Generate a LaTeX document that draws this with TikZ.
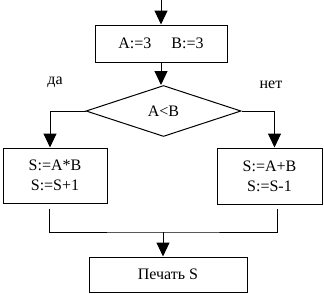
\documentclass[tikz,border=0pt]{standalone}
\usepackage{fontspec}
\setmainfont{Liberation Serif}
\usetikzlibrary{shapes.geometric,arrows.meta}
\begin{document}
\begin{tikzpicture}[x=1pt,y=-1pt,
  every node/.style={font=\fontsize{16}{20}\selectfont},
  box/.style={draw,line width=1pt,rectangle,inner sep=0pt,align=center},
  cond/.style={draw,line width=1pt,diamond,inner sep=0pt,aspect=3},
  line/.style={line width=1pt},
  arr/.style={line width=1pt,-{Triangle[width=13pt,length=14pt]}}]
\useasboundingbox (0,0) rectangle (324,293);
\fill[white] (0,0) rectangle (324,293);
\coordinate (start) at (161,0);
\node[box,minimum width=132pt,minimum height=37pt] (b1) at (161,43.5) {A:=3\hspace{20pt}B:=3};
\node[cond,minimum width=155pt,minimum height=51pt] (dia) at (163.5,111) {A<B};
\node[box,minimum width=104pt,minimum height=55pt] (L) at (55,175.5) {S:=A*B\\S:=S+1};
\node[box,minimum width=105pt,minimum height=56pt] (R) at (269.5,176) {S:=A+B\\S:=S-1};
\node[box,minimum width=158pt,minimum height=35pt] (P) at (168,274.5) {Печать S};
\node (yes) at (55,82) {да};
\node (no) at (271,85) {нет};
\coordinate (mm) at (163,232);
\draw[arr] (start) -- (b1.north -| start);
\draw[arr] (b1.south -| start) -- (dia.north -| start);
\draw[arr] (dia.west) -| ([xshift=-5pt]L.north);
\draw[arr] (dia.east) -| ([xshift=5pt]R.north);
\draw[line] ([shift={(-6,5)}]L.south) |- (mm) -| ([shift={(7.5,4)}]R.south);
\draw[arr] (mm) -- (mm |- P.north);
\end{tikzpicture}
\end{document}
